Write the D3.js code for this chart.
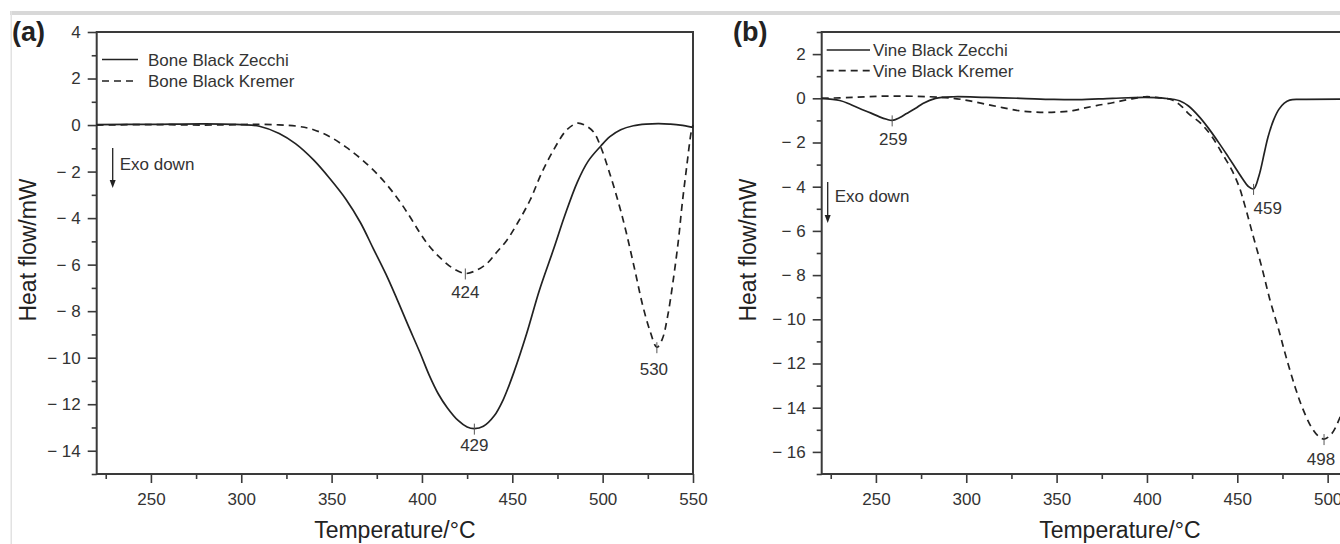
<!DOCTYPE html>
<html>
<head>
<meta charset="utf-8">
<script src="https://cdn.jsdelivr.net/npm/d3@7"></script>
<style>
  body { margin: 0; background: #fff; }
  svg { display: block; font-family: "Liberation Sans", Arial, sans-serif; }
  .axis text { font-size: 17px; fill: #333; }
  .axis line { stroke: #3a3a3a; stroke-width: 1.6; }
  .axis path { display: none; }
  .frame { fill: none; stroke: #3a3a3a; stroke-width: 2; }
  .curve { fill: none; stroke: #222; stroke-width: 1.7; }
  .dashed { stroke-dasharray: 7,5; }
  .label { font-size: 17px; fill: #333; }
  .title { font-size: 23px; fill: #222; }
  .panel-tag { font-size: 27px; font-weight: bold; fill: #222; }
</style>
</head>
<body>
<svg id="chart" width="1340" height="544"></svg>
<script>
// Panel (a) - bone black
const tempBoneZecchi = [220, 250, 280, 300, 310, 321, 330, 340, 349, 358, 366, 373, 380, 386, 392, 399, 404, 409, 414, 420, 425, 429, 434, 440, 445, 451, 458, 465, 473, 479, 486, 492, 499, 504, 510, 517, 524, 531, 537, 543, 550];
const heatBoneZecchi = [0.02, 0.03, 0.05, 0.02, -0.05, -0.36, -0.8, -1.5, -2.3, -3.2, -4.2, -5.3, -6.4, -7.45, -8.55, -9.8, -10.75, -11.55, -12.15, -12.7, -12.98, -13.05, -12.95, -12.5, -11.8, -10.6, -8.95, -7.1, -5.3, -3.9, -2.45, -1.55, -0.9, -0.5, -0.2, -0.03, 0.04, 0.06, 0.04, 0.0, -0.1];

const tempBoneKremer = [220, 250, 280, 300, 312, 331, 340, 349, 358, 367, 377, 386, 393, 399, 404, 410, 417, 424, 430, 436, 441, 447, 453, 460, 466, 473, 480, 486, 490, 495, 499, 504, 509, 513, 518, 522, 526, 530, 533, 536, 539, 542, 544, 546.5, 549, 550];
const heatBoneKremer = [0.0, 0.02, 0.0, 0.02, 0.03, -0.05, -0.2, -0.5, -0.95, -1.5, -2.25, -3.1, -3.9, -4.65, -5.2, -5.7, -6.15, -6.38, -6.25, -5.95, -5.5, -4.95, -4.2, -3.2, -2.1, -1.05, -0.22, 0.08, 0.0, -0.3, -0.95, -2.1, -3.4, -4.6, -6.3, -7.7, -8.8, -9.55, -9.2, -8.2, -6.7, -4.9, -3.4, -1.8, -0.3, 0.0];

// Panel (b) - vine black
const tempVineZecchi = [220, 230, 236, 241, 247, 252, 256, 259, 263, 267, 272, 276, 283, 293, 311, 330, 348, 362, 381, 399, 410, 418, 423, 429, 434, 440, 445, 449, 453, 456, 459, 462, 465, 467, 470, 473, 476, 479, 485, 550];
const heatVineZecchi = [0.0, -0.1, -0.28, -0.46, -0.66, -0.84, -0.95, -1.0, -0.88, -0.69, -0.45, -0.23, 0.0, 0.07, 0.04, 0.0, -0.05, -0.06, 0.0, 0.04, 0.0, -0.11, -0.35, -0.84, -1.35, -2.04, -2.65, -3.15, -3.65, -3.98, -4.1, -3.5, -2.45, -1.75, -1.0, -0.5, -0.22, -0.08, -0.05, -0.05];

const tempVineKremer = [220, 237, 256, 280, 293, 302, 311, 320, 329, 337, 344, 351, 359, 365, 372, 381, 390, 399, 406, 414, 419, 423, 430, 436, 442, 447, 451, 454, 459, 463.5, 468, 473, 477, 482, 486, 491, 495, 498, 502, 506, 510, 515];
const heatVineKremer = [0.0, 0.04, 0.1, 0.07, 0.0, -0.12, -0.27, -0.42, -0.56, -0.62, -0.64, -0.62, -0.56, -0.45, -0.33, -0.2, -0.05, 0.07, 0.03, -0.08, -0.35, -0.69, -1.15, -1.74, -2.55, -3.25, -4.0, -4.8, -6.3, -7.63, -9.1, -10.5, -11.7, -13.07, -14.0, -14.88, -15.3, -15.42, -15.2, -14.6, -13.6, -11.5];

// Axis ticks
const xMajorTicks = [250, 300, 350, 400, 450, 500, 550];
const xMinorTicks = [225, 275, 325, 375, 425, 475, 525];
const yMajorTicksA = [4, 2, 0, -2, -4, -6, -8, -10, -12, -14];
const yMinorTicksA = [3, 1, -1, -3, -5, -7, -9, -11, -13, -15];
const yMajorTicksB = [2, 0, -2, -4, -6, -8, -10, -12, -14, -16];
const yMinorTicksB = [3, 1, -1, -3, -5, -7, -9, -11, -13, -15, -17];

// Peak annotations
const peakTempsA = [424, 429, 530];
const peakSeriesA = ['kremer', 'zecchi', 'kremer'];
const peakTempsB = [259, 459, 498];
const peakSeriesB = ['zecchi', 'zecchi', 'kremer'];

const legendNamesA = ['Bone Black Zecchi', 'Bone Black Kremer'];
const legendNamesB = ['Vine Black Zecchi', 'Vine Black Kremer'];

const config = {
  plotTop: 32,
  plotBottom: 474,
  plotWidth: 596.3,
  xDomain: [220, 550]
};

const svg = d3.select('#chart');

// screenshot frame (light grey border at top / left)
svg.append('rect').attr('x', 10).attr('y', 11).attr('width', 1330).attr('height', 4).attr('fill', '#d8d8d8');
svg.append('rect').attr('x', 10.5).attr('y', 11).attr('width', 1.5).attr('height', 533).attr('fill', '#e2e2e2');

const minusFormat = d => d < 0 ? '\u2212 ' + Math.abs(d) : String(d);

function drawPanel(p) {
  const x = d3.scaleLinear().domain(config.xDomain).range([p.left, p.left + config.plotWidth]);
  const y = d3.scaleLinear().domain(p.yDomain).range([config.plotBottom, config.plotTop]);
  const g = svg.append('g');

  // axes: major + minor ticks
  g.append('g').attr('class', 'axis')
      .attr('transform', `translate(0,${config.plotBottom})`)
      .call(d3.axisBottom(x).tickValues(xMajorTicks).tickSize(9).tickPadding(10).tickFormat(d3.format('d')));
  g.append('g').attr('class', 'axis')
      .attr('transform', `translate(0,${config.plotBottom})`)
      .call(d3.axisBottom(x).tickValues(xMinorTicks).tickSize(5).tickFormat(''));
  g.append('g').attr('class', 'axis')
      .attr('transform', `translate(${p.left},0)`)
      .call(d3.axisLeft(y).tickValues(p.yMajor).tickSize(9).tickPadding(7).tickFormat(minusFormat));
  g.append('g').attr('class', 'axis')
      .attr('transform', `translate(${p.left},0)`)
      .call(d3.axisLeft(y).tickValues(p.yMinor).tickSize(5).tickFormat(''));

  g.append('rect').attr('class', 'frame')
      .attr('x', p.left).attr('y', config.plotTop)
      .attr('width', config.plotWidth).attr('height', config.plotBottom - config.plotTop);

  // curves
  const line = d3.line().x(d => x(d[0])).y(d => y(d[1])).curve(d3.curveCatmullRom.alpha(0.5));
  const series = {
    zecchi: d3.zip(p.zecchi[0], p.zecchi[1]),
    kremer: d3.zip(p.kremer[0], p.kremer[1])
  };
  g.append('path').attr('class', 'curve').attr('d', line(series.zecchi));
  g.append('path').attr('class', 'curve dashed').attr('d', line(series.kremer));

  // peak markers + labels
  p.peaks.forEach((t, i) => {
    const s = series[p.peakSeries[i]];
    const v = s.find(d => d[0] === t)[1];
    const px = x(t), py = y(v);
    g.append('line').attr('x1', px).attr('x2', px).attr('y1', py - 5).attr('y2', py + 6)
        .attr('stroke', '#555').attr('stroke-width', 1);
    const off = p.labelOffsets[i];
    g.append('text').attr('class', 'label')
        .attr('x', px + off[0]).attr('y', py + off[1])
        .attr('text-anchor', off[2] || 'middle')
        .text(String(t));
  });

  // legend
  const lg = p.legend;
  p.legendNames.forEach((name, i) => {
    const ly = lg.y + i * lg.step;
    g.append('line').attr('class', i ? 'curve dashed' : 'curve')
        .attr('x1', lg.x1).attr('x2', lg.x2).attr('y1', ly).attr('y2', ly);
    g.append('text').attr('class', 'label').attr('x', lg.tx).attr('y', ly + 6).text(name);
  });

  // exo down arrow
  const ex = p.exo;
  g.append('line').attr('x1', ex.x).attr('x2', ex.x).attr('y1', ex.y1).attr('y2', ex.y2 - 6)
      .attr('stroke', '#222').attr('stroke-width', 1.3);
  g.append('path')
      .attr('d', `M${ex.x - 3},${ex.y2 - 8} L${ex.x + 3},${ex.y2 - 8} L${ex.x},${ex.y2} Z`)
      .attr('fill', '#222');
  g.append('text').attr('class', 'label').attr('x', ex.x + 7).attr('y', ex.ty).text('Exo down');

  // titles
  g.append('text').attr('class', 'title')
      .attr('x', p.left + config.plotWidth / 2).attr('y', 538)
      .attr('text-anchor', 'middle').text('Temperature/\u00B0C');
  g.append('text').attr('class', 'title')
      .attr('transform', `translate(${p.yTitleX},250) rotate(-90)`)
      .attr('text-anchor', 'middle').text('Heat flow/mW');
  g.append('text').attr('class', 'panel-tag').attr('x', p.tagX).attr('y', 41).text(p.tag);
}

drawPanel({
  left: 96.7,
  yDomain: [-15, 4],
  yMajor: yMajorTicksA,
  yMinor: yMinorTicksA,
  zecchi: [tempBoneZecchi, heatBoneZecchi],
  kremer: [tempBoneKremer, heatBoneKremer],
  peaks: peakTempsA,
  peakSeries: peakSeriesA,
  labelOffsets: [[0, 25], [0, 22], [-3, 28]],
  legendNames: legendNamesA,
  legend: { x1: 102, x2: 138, tx: 148, y: 59.5, step: 21.5 },
  exo: { x: 112.7, y1: 148, y2: 188, ty: 170 },
  yTitleX: 36,
  tagX: 12,
  tag: '(a)'
});

drawPanel({
  left: 821.7,
  yDomain: [-17, 3],
  yMajor: yMajorTicksB,
  yMinor: yMinorTicksB,
  zecchi: [tempVineZecchi, heatVineZecchi],
  kremer: [tempVineKremer, heatVineKremer],
  peaks: peakTempsB,
  peakSeries: peakSeriesB,
  labelOffsets: [[1, 25], [0, 25, 'start'], [-3, 26]],
  legendNames: legendNamesB,
  legend: { x1: 826.7, x2: 870, tx: 873, y: 50, step: 20.7 },
  exo: { x: 827.7, y1: 182, y2: 223, ty: 202 },
  yTitleX: 756,
  tagX: 733,
  tag: '(b)'
});
</script>
</body>
</html>
